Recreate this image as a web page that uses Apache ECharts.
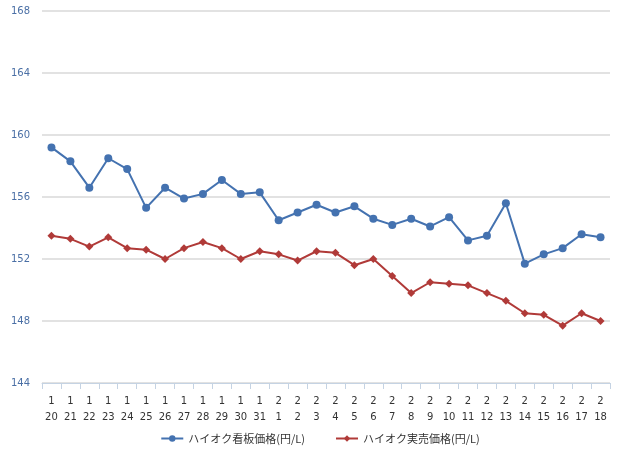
<!DOCTYPE html>
<html><head><meta charset="utf-8">
<script src="https://cdn.jsdelivr.net/npm/echarts@6/dist/echarts.min.js"></script>
<style>html,body{margin:0;padding:0;background:#fff}#c{width:640px;height:463px}</style>
</head><body><div id="c"></div>
<script>
var months = [1,1,1,1,1,1,1,1,1,1,1,1,2,2,2,2,2,2,2,2,2,2,2,2,2,2,2,2,2,2];
var days = [20,21,22,23,24,25,26,27,28,29,30,31,1,2,3,4,5,6,7,8,9,10,11,12,13,14,15,16,17,18];
var signPrice = [159.2,158.3,156.6,158.5,157.8,155.3,156.6,155.9,156.2,157.1,156.2,156.3,154.5,155.0,155.5,155.0,155.4,154.6,154.2,154.6,154.1,154.7,153.2,153.5,155.6,151.7,152.3,152.7,153.6,153.4];
var realPrice = [153.5,153.3,152.8,153.4,152.7,152.6,152.0,152.7,153.1,152.7,152.0,152.5,152.3,151.9,152.5,152.4,151.6,152.0,150.9,149.8,150.5,150.4,150.3,149.8,149.3,148.5,148.4,147.7,148.5,148.0];

var categories = [];
for (var i = 0; i < days.length; i++) {
	categories.push(months[i] + "\n" + days[i]);
}

var chart = echarts.init(document.getElementById("c"));
chart.setOption({
	animation: false,
	backgroundColor: '#fff',
	color: ['#4472b0', '#b03a38'],
	grid: {left: 42, right: 30, top: 11, height: 372},
	legend: {
		bottom: 14, left: 'center', itemGap: 30,
		textStyle: {fontSize: 11, color: '#333', fontFamily: 'Noto Sans CJK JP'},
		data: ['ハイオク看板価格(円/L)', 'ハイオク実売価格(円/L)'],
		itemWidth: 22, itemHeight: 8
	},
	xAxis: {
		type: 'category',
		boundaryGap: true,
		data: categories,
		axisLine: {lineStyle: {color: '#c5d3e3'}},
		axisTick: {show: true, length: 6, lineStyle: {color: '#c5d3e3'}},
		axisLabel: {interval: 0, color: '#333', fontSize: 10, lineHeight: 16, margin: 10, fontFamily: 'DejaVu Sans'}
	},
	yAxis: {
		type: 'value', min: 144, max: 168, interval: 4,
		axisLine: {show: false}, axisTick: {show: false},
		axisLabel: {color: '#4a6fa5', fontSize: 10, margin: 12, fontFamily: 'DejaVu Sans'},
		splitLine: {lineStyle: {color: '#d9d9d9', width: 1.5}}
	},
	series: [
		{name: 'ハイオク看板価格(円/L)', type: 'line', data: signPrice, symbol: 'circle', symbolSize: 8, lineStyle: {width: 2}},
		{name: 'ハイオク実売価格(円/L)', type: 'line', data: realPrice, symbol: 'diamond', symbolSize: 8, lineStyle: {width: 2}}
	]
});
</script>
</body></html>
